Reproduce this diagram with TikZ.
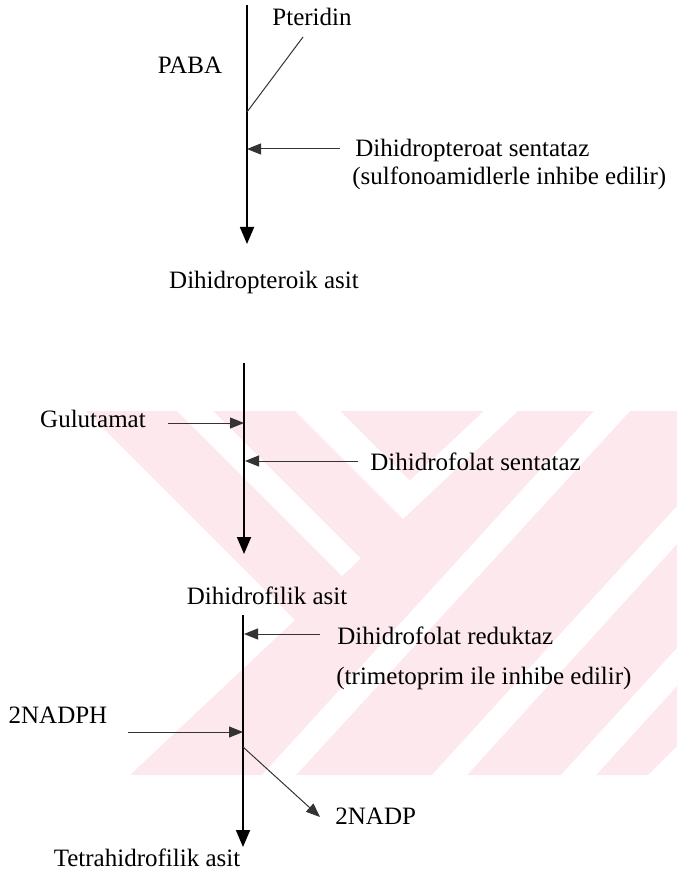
\documentclass[tikz,border=0pt]{standalone}
\usepackage{fontspec}
\setmainfont{Liberation Serif}
\usepackage{tikz}
\usetikzlibrary{calc}
\usetikzlibrary{arrows.meta}
\definecolor{wmark}{RGB}{253,233,237}
\tikzstyle{lbl} = [inner sep=2pt, font=\fontsize{12.5}{15}\selectfont]
\tikzstyle{mainarrow} = [line width=0.9pt, -{Triangle[length=8.5pt,width=7pt]}]
\tikzstyle{sidearrow} = [line width=0.5pt, black!80, -{Triangle[length=7pt,width=5.5pt]}]
\tikzstyle{bline} = [line width=0.5pt, black!80]

\begin{document}
\begin{tikzpicture}[x=0.5pt, y=-0.5pt]
    \useasboundingbox (0,0) rectangle (677,877);

    % watermark behind the second and third step
    \fill[wmark] (86,411) -- (677,411) -- (677,746) -- (648,775) -- (130,775) -- (295,620) -- cycle;
    \fill[white] (295,411) -- (402.9,518.9) -- (518,411) -- (484,411) -- (409.7,480.7) -- (340,411) -- cycle;
    \fill[white] (177,411) -- (342,576) -- (360.6,558.6) -- (213,411) -- cycle;
    \fill[white] (594,411) -- (630,411) -- (296,775) -- (262,775) -- cycle;
    \fill[white] (432,775) -- (677,506) -- (677,544) -- (467,775) -- cycle;
    \fill[white] (561,775) -- (677,648) -- (677,686) -- (596,775) -- cycle;

    % PABA + pteridin
    \coordinate (s1_top) at (247,5);
    \coordinate (s1_end) at ($(s1_top)+(0,239)$);
    \coordinate (pt_join) at ($(s1_top)+(0,107)$);
    \coordinate (pt_end) at ($(s1_top)+(56,32)$);
    \coordinate (dhps_in) at ($(s1_top)+(0,144)$);
    \coordinate (dhps_out) at ($(dhps_in)+(93,0)$);
    \node[lbl] (paba) at ($(s1_top)+(-57,60)$) {PABA};
    \node[lbl] (pteridin) at ($(s1_top)+(65,12)$) {Pteridin};
    \node[lbl, anchor=west] (dhp_sentataz) at ($(dhps_out)+(11,1)$) {Dihidropteroat sentataz};
    \node[lbl, anchor=west] (sulfo_note) at ($(dhp_sentataz.west)+(-3,28)$) {(sulfonoamidlerle inhibe edilir)};
    \node[lbl] (pteroik_asit) at ($(s1_end)+(17,38)$) {Dihidropteroik asit};
    \draw[mainarrow] (s1_top) -- (s1_end);
    \draw[bline] (pt_join) -- (pt_end);
    \draw[sidearrow] (dhps_out) -- (dhps_in);

    % glutamat step
    \coordinate (s2_top) at (244,363);
    \coordinate (s2_end) at ($(s2_top)+(0,191)$);
    \coordinate (glu_in) at ($(s2_top)+(0,60)$);
    \coordinate (glu_out) at ($(glu_in)+(-76,0)$);
    \coordinate (dhfs_in) at ($(s2_top)+(1,98)$);
    \coordinate (dhfs_out) at ($(dhfs_in)+(113,0)$);
    \node[lbl] (gulutamat) at ($(glu_out)+(-75,-4)$) {Gulutamat};
    \node[lbl, anchor=west] (folat_sentataz) at ($(dhfs_out)+(8,1)$) {Dihidrofolat sentataz};
    \node[lbl] (filik_asit) at ($(s2_end)+(23,42)$) {Dihidrofilik asit};
    \draw[mainarrow] (s2_top) -- (s2_end);
    \draw[sidearrow] (glu_out) -- (glu_in);
    \draw[sidearrow] (dhfs_out) -- (dhfs_in);

    % reduktaz step
    \coordinate (s3_top) at (243,615);
    \coordinate (s3_end) at ($(s3_top)+(0,232)$);
    \coordinate (dhfr_in) at ($(s3_top)+(1,19)$);
    \coordinate (dhfr_out) at ($(dhfr_in)+(76,0)$);
    \coordinate (nadph_in) at ($(s3_top)+(0,117)$);
    \coordinate (nadph_out) at ($(nadph_in)+(-115,0)$);
    \coordinate (nadp_join) at ($(s3_top)+(0,132)$);
    \coordinate (nadp_tip) at ($(nadp_join)+(77,70)$);
    \node[lbl, anchor=west] (folat_reduktaz) at ($(dhfr_out)+(13,2)$) {Dihidrofolat reduktaz};
    \node[lbl, anchor=west] (trimeto_note) at ($(folat_reduktaz.west)+(-1,42)$) {(trimetoprim ile inhibe edilir)};
    \node[lbl] (nadph) at ($(nadph_out)+(-70,-17)$) {2NADPH};
    \node[lbl, anchor=west] (nadp) at ($(nadp_tip)+(11,-1)$) {2NADP};
    \node[lbl] (tetra_asit) at ($(s3_end)+(-96,11)$) {Tetrahidrofilik asit};
    \draw[mainarrow] (s3_top) -- (s3_end);
    \draw[sidearrow] (dhfr_out) -- (dhfr_in);
    \draw[sidearrow] (nadph_out) -- (nadph_in);
    \draw[sidearrow] (nadp_join) -- (nadp_tip);
\end{tikzpicture}
\end{document}
